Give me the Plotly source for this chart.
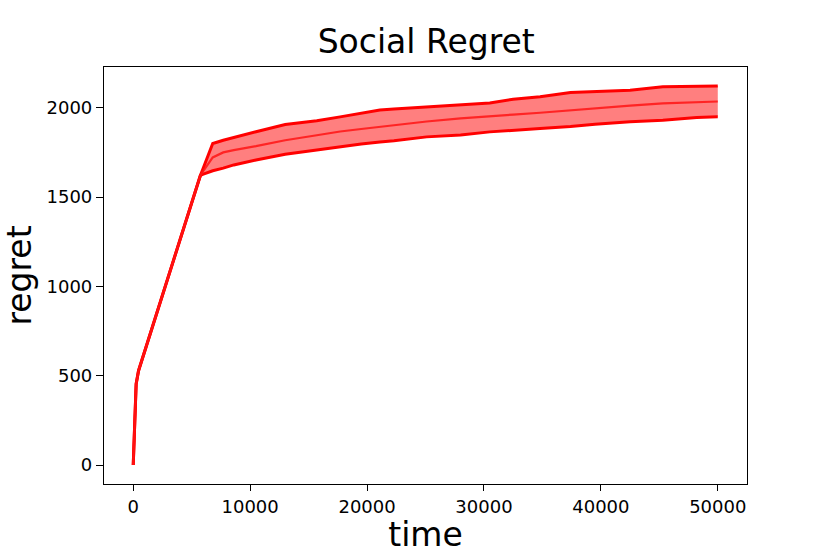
import plotly.graph_objects as go

# Data
time = [0, 250, 455, 3000, 5500, 5750, 6000, 6800, 7700, 8600, 10500, 13000, 15700,
        17700, 19500, 21100, 22300, 25100, 28000, 30500, 32500, 34800, 37400,
        39500, 42500, 45300, 48200, 50000]
regret_mean = [0, 454, 528, 1053, 1575, 1622, 1646, 1722, 1750, 1763, 1785, 1818, 1846,
               1867, 1881, 1893, 1902, 1923, 1940, 1954, 1962, 1972, 1986,
               1998, 2012, 2024, 2030, 2035]
regret_upper = [0, 454, 528, 1053, 1575, 1622, 1664, 1800, 1818, 1834, 1866, 1906, 1927,
                1949, 1968, 1987, 1993, 2005, 2017, 2026, 2048, 2062, 2085,
                2090, 2098, 2117, 2120, 2122]
regret_lower = [0, 454, 528, 1053, 1575, 1622, 1628, 1647, 1662, 1680, 1707, 1740, 1764,
                1782, 1797, 1808, 1815, 1837, 1848, 1865, 1872, 1884, 1895,
                1908, 1922, 1930, 1945, 1949]

x_ticks = [0, 10000, 20000, 30000, 40000, 50000]
y_ticks = [0, 500, 1000, 1500, 2000]

FONT = "DejaVu Sans"

fig = go.Figure()

# shaded band between lower and upper
fig.add_trace(go.Scatter(
    x=time + time[::-1],
    y=regret_upper + regret_lower[::-1],
    fill="toself",
    fillcolor="rgba(255,0,0,0.5)",
    line=dict(width=0),
    mode="lines",
    hoverinfo="skip",
    showlegend=False,
))
fig.add_trace(go.Scatter(x=time, y=regret_upper, mode="lines",
                         line=dict(color="#ff0000", width=3), showlegend=False))
fig.add_trace(go.Scatter(x=time, y=regret_lower, mode="lines",
                         line=dict(color="#ff0000", width=3), showlegend=False))
fig.add_trace(go.Scatter(x=time, y=regret_mean, mode="lines",
                         line=dict(color="rgba(255,20,20,0.85)", width=2.2), showlegend=False))

ymax = max(regret_upper)
fig.update_layout(
    width=830, height=554,
    margin=dict(l=104, r=83, t=67, b=70, autoexpand=False),
    paper_bgcolor="white", plot_bgcolor="white",
    font=dict(family=FONT, color="black", size=18),
    title=dict(text="Social Regret", x=0.5135, xanchor="center",
               y=1 - 41 / 554, yanchor="middle", yref="container",
               font=dict(family=FONT, size=33, color="black")),
    xaxis=dict(
        range=[-2500, 52500], tickvals=x_ticks, ticktext=[str(v) for v in x_ticks],
        showgrid=False, zeroline=False, showline=True, linecolor="black", linewidth=1.2,
        mirror=True, ticks="outside", ticklen=6, tickwidth=1.2, tickcolor="black",
        tickfont=dict(size=18, family=FONT), automargin=False,
        title=dict(text="time", font=dict(size=33, family=FONT), standoff=6),
    ),
    yaxis=dict(
        range=[-0.05 * ymax, 1.05 * ymax], tickvals=y_ticks, ticktext=[str(v) for v in y_ticks],
        showgrid=False, zeroline=False, showline=True, linecolor="black", linewidth=1.2,
        mirror=True, ticks="outside", ticklen=7, tickwidth=1.2, tickcolor="black",
        tickfont=dict(size=18, family=FONT), automargin=False,
        title=dict(text="regret", font=dict(size=33, family=FONT), standoff=10),
    ),
)

fig.write_html(
    "out.html",
    config={"displayModeBar": False},
    post_script="document.body.style.margin='0';document.body.style.overflow='hidden';",
)
